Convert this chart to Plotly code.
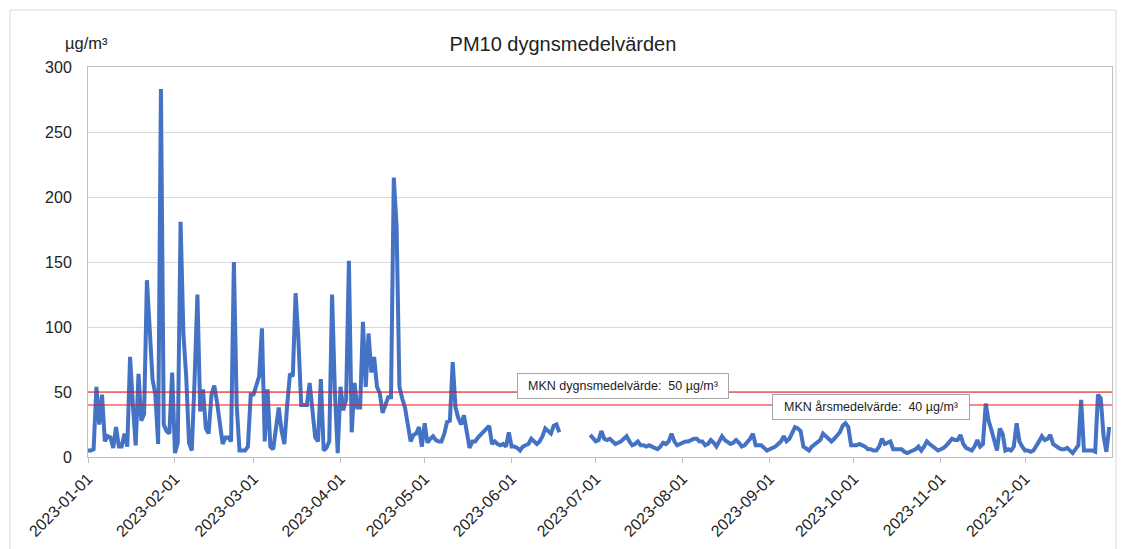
import pandas as pd
import plotly.graph_objects as go

# Daily PM10 means, 2023 (µg/m³); None = missing data
jan = [5, 5, 6, 54, 25, 48, 12, 16, 15, 7, 23, 8, 8, 18, 8, 77, 40, 9, 64, 28, 33, 136, 98, 60, 48, 10, 283, 25, 20, 18, 65]
feb = [3, 11, 181, 95, 62, 11, 5, 60, 125, 35, 52, 22, 18, 48, 55, 42, 25, 10, 15, 15, 12, 150, 40, 5, 5, 5, 8, 48]
mar = [48, 55, 62, 99, 12, 52, 8, 6, 20, 38, 20, 10, 40, 64, 62, 126, 90, 40, 40, 40, 57, 35, 15, 12, 60, 5, 7, 12, 125, 50, 3]
apr = [54, 36, 44, 151, 19, 57, 38, 38, 104, 54, 95, 65, 77, 54, 49, 34, 40, 46, 46, 215, 177, 54, 45, 38, 25, 12, 17, 18, 23, 8]
may = [26, 11, 14, 16, 13, 12, 12, 18, 27, 28, 73, 38, 30, 25, 32, 18, 7, 12, 12, 15, 17, 20, 22, 24, 10, 12, 10, 9, 10, 8, 19]
jun = [8, 8, 7, 5, 8, 9, 10, 14, 12, 10, 12, 16, 22, 20, 18, 24, 25, 19,
       None, None, None, None, None, None, None, None, None, None, 17, 15]
jul = [12, 13, 20, 14, 13, 14, 12, 10, 11, 12, 14, 16, 12, 9, 10, 12, 9, 9, 8, 9, 8, 7, 6, 8, 11, 10, 12, 18, 12, 9, 10]
aug = [11, 12, 12, 13, 14, 14, 12, 12, 9, 10, 13, 11, 8, 12, 16, 13, 11, 10, 11, 13, 11, 8, 9, 11, 14, 18, 9, 9, 9, 7, 5]
sep = [6, 7, 8, 10, 12, 16, 12, 14, 18, 23, 22, 20, 8, 6, 5, 8, 10, 12, 13, 18, 16, 14, 12, 14, 16, 19, 24, 26, 23, 9]
oct_ = [9, 9, 10, 9, 8, 6, 6, 5, 5, 8, 14, 10, 11, 12, 6, 6, 6, 6, 4, 3, 4, 5, 6, 8, 5, 8, 12, 10, 8, 6, 5]
nov = [6, 7, 9, 12, 14, 13, 13, 17, 10, 7, 6, 5, 8, 13, 8, 10, 41, 28, 21, 12, 5, 22, 18, 5, 6, 5, 8, 26, 12, 8]
dec = [5, 5, 4, 5, 8, 12, 16, 13, 14, 17, 10, 8, 7, 6, 6, 7, 5, 3, 6, 9, 44, 5, 5, 5, 5, 4, 48, 45, 16, 4, 23]

values = jan + feb + mar + apr + may + jun + jul + aug + sep + oct_ + nov + dec
dates = pd.date_range("2023-01-01", periods=len(values), freq="D")

month_ticks = pd.date_range("2023-01-01", "2023-12-01", freq="MS")
limit_day = 50   # MKN dygnsmedelvärde
limit_year = 40  # MKN årsmedelvärde

title_text = "PM10 dygnsmedelvärden"
unit_text = "µg/m³"
label_day = f"MKN dygnsmedelvärde:\u00a0 {limit_day} µg/m³"
label_year = f"MKN årsmedelvärde:\u00a0 {limit_year} µg/m³"

FONT = "Liberation Sans, Arial, sans-serif"

fig = go.Figure()
fig.add_trace(go.Scatter(
    x=dates, y=values, mode="lines",
    line=dict(color="#4472C4", width=4),
    connectgaps=False, hoverinfo="x+y", showlegend=False,
))

# Limit lines
for val, col in [(limit_day, "#FF0000"), (limit_year, "#E8191E")]:
    fig.add_shape(type="line", xref="paper", x0=0, x1=1, yref="y", y0=val, y1=val,
                  line=dict(color=col, width=1), layer="above")

# Outer chart frame
fig.add_shape(type="rect", xref="paper", yref="paper",
              x0=-0.0762, x1=1.0039, y0=-0.30, y1=1.146,
              line=dict(color="#d9d9d9", width=1), layer="below")

fig.add_annotation(xref="paper", yref="paper", x=0.5225, y=0.1833,
                   xanchor="center", yanchor="middle",
                   text=label_day, showarrow=False,
                   font=dict(family=FONT, size=12.5, color="#222222"),
                   bgcolor="white", bordercolor="#a6a6a6", borderwidth=1,
                   borderpad=1, width=208, height=22)
fig.add_annotation(xref="paper", yref="paper", x=0.7646, y=0.1282,
                   xanchor="center", yanchor="middle",
                   text=label_year, showarrow=False,
                   font=dict(family=FONT, size=12.5, color="#222222"),
                   bgcolor="white", bordercolor="#a6a6a6", borderwidth=1,
                   borderpad=1, width=194, height=22)
fig.add_annotation(xref="paper", yref="paper", x=0.0215, y=1.0615,
                   xanchor="right", yanchor="middle",
                   text=unit_text, showarrow=False,
                   font=dict(family=FONT, size=16.5, color="#222222"))

# page body adds an 8px offset, so the figure is sized/placed to compensate
fig.update_layout(
    width=1118, height=541,
    margin=dict(l=80, r=14, t=59, b=92, autoexpand=False),
    paper_bgcolor="white", plot_bgcolor="white",
    font=dict(family=FONT, color="#222222"),
    title=dict(text=title_text, x=0.4964, xanchor="center", y=0.9335, yanchor="middle",
               font=dict(family=FONT, size=20, color="#222222")),
)
fig.update_xaxes(
    type="date", range=["2023-01-01", "2024-01-01"], automargin=False,
    tickvals=month_ticks, tickformat="%Y-%m-%d", tickangle=-45,
    tickfont=dict(size=16, color="#222222"),
    showgrid=False, showline=True, linecolor="#bfbfbf", linewidth=1, mirror=True,
    ticks="outside", ticklen=5, tickcolor="#bfbfbf", zeroline=False,
)
fig.update_yaxes(
    range=[0, 300], dtick=50, tick0=0, automargin=False,
    tickfont=dict(size=16, color="#222222"),
    showgrid=True, gridcolor="#d9d9d9", gridwidth=1,
    showline=True, linecolor="#bfbfbf", linewidth=1, mirror=True,
    ticks="", ticklabelstandoff=12, zeroline=False,
)

fig.write_html("out.html")
